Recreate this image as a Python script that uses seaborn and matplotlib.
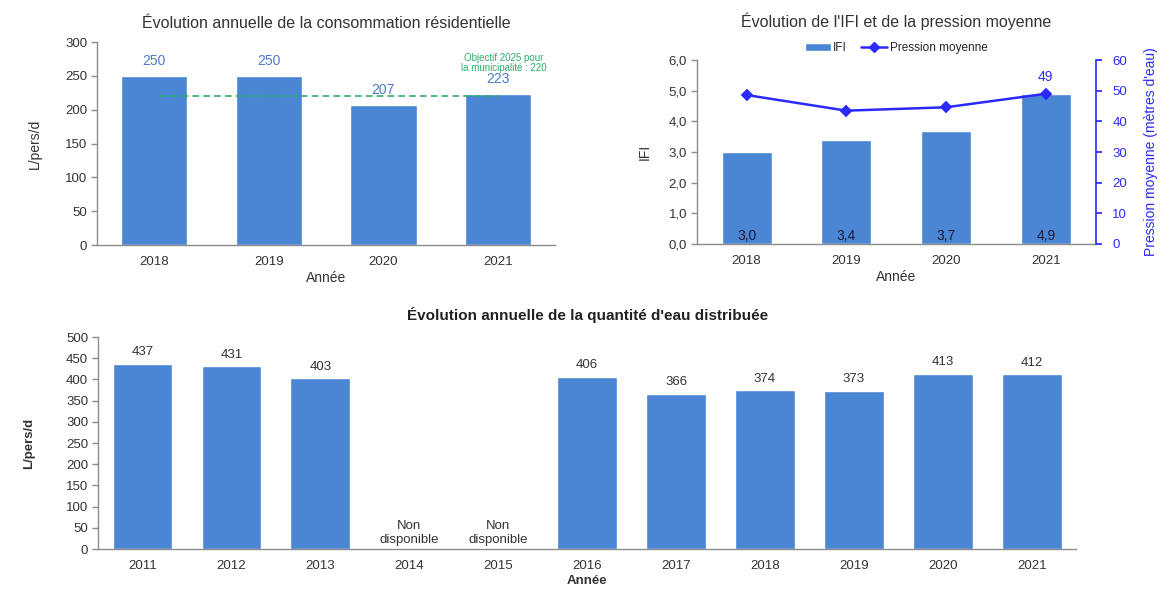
import matplotlib
matplotlib.use("Agg")
import matplotlib.pyplot as plt
import seaborn as sns
import numpy as np
from matplotlib.patches import Patch
from matplotlib.lines import Line2D
from matplotlib.ticker import FuncFormatter

# ---------------- data ----------------
res_years = ["2018", "2019", "2020", "2021"]
res_values = [250, 250, 207, 223]
objective_2025 = 220

ifi_years = ["2018", "2019", "2020", "2021"]
ifi_values = [3.0, 3.4, 3.7, 4.9]
pression_values = [48.6, 43.5, 44.6, 49.0]

dist_years = ["2011", "2012", "2013", "2014", "2015", "2016",
              "2017", "2018", "2019", "2020", "2021"]
dist_values = [437, 431, 403, np.nan, np.nan, 406, 366, 374, 373, 413, 412]
dist_missing_label = "Non\ndisponible"

# ---------------- style ----------------
sns.set_theme(style="white")
plt.rcParams["font.family"] = ["Liberation Sans", "DejaVu Sans"]

BAR = "#4b86d4"
AX = "#8c8c8c"
TXT = "#333333"
GREEN = "#2fae6c"
PBLUE = "#2a2aff"

fig = plt.figure(figsize=(11.73, 5.95), dpi=100)

def style_axes(ax, fs=9.5):
    for s in ["top", "right"]:
        ax.spines[s].set_visible(False)
    for s in ["left", "bottom"]:
        ax.spines[s].set_color(AX)
        ax.spines[s].set_linewidth(1.0)
    ax.tick_params(axis="y", which="major", length=4, width=1, color=AX,
                   labelsize=fs, labelcolor=TXT, direction="out", left=True, pad=3)
    ax.tick_params(axis="x", length=0, labelsize=fs, labelcolor=TXT, pad=8)

# ---------------- top-left ----------------
ax1 = fig.add_axes([0.0827, 0.5882, 0.3905, 0.3412])
sns.barplot(x=res_years, y=res_values, color=BAR, width=0.58, saturation=1, ax=ax1)
ax1.set_ylim(0, 300)
ax1.set_yticks(range(0, 301, 50))
ax1.set_xlim(-0.5, 3.5)
style_axes(ax1)
ax1.set_title("Évolution annuelle de la consommation résidentielle",
              fontsize=11.5, color=TXT, pad=10)
ax1.set_xlabel("Année", fontsize=10, color=TXT, labelpad=2)
ax1.set_ylabel("L/pers/d", fontsize=10, color=TXT, labelpad=17)
for i, v in enumerate(res_values):
    ax1.annotate(f"{v}", (i, v), xytext=(0, 6), textcoords="offset points",
                 ha="center", va="bottom", fontsize=10, color="#4a7cc6")
ax1.plot([0.05, 3.0], [objective_2025, objective_2025], ls=(0, (4, 2.5)),
         color=GREEN, lw=1.2)
ax1.annotate(f"Objectif 2025 pour\nla municipalité : {objective_2025}",
             (3.0, objective_2025), xytext=(4, 17), textcoords="offset points",
             ha="center", va="bottom", fontsize=7, color=GREEN, linespacing=1.0)

# ---------------- top-right ----------------
ax2 = fig.add_axes([0.594, 0.590, 0.340, 0.309])
sns.barplot(x=ifi_years, y=ifi_values, color=BAR, width=0.5, saturation=1, ax=ax2)
ax2.set_ylim(0, 6)
ax2.set_yticks(np.arange(0, 6.01, 1))
ax2.yaxis.set_major_formatter(FuncFormatter(lambda v, p: f"{v:.1f}".replace(".", ",")))
ax2.set_xlim(-0.5, 3.5)
style_axes(ax2)
ax2.set_title("Évolution de l'IFI et de la pression moyenne",
              fontsize=11.5, color=TXT, pad=24)
ax2.set_xlabel("Année", fontsize=10, color=TXT, labelpad=2)
ax2.set_ylabel("IFI", fontsize=10, color=TXT, labelpad=12)
for i, v in enumerate(ifi_values):
    ax2.text(i, 0.25, f"{v:.1f}".replace(".", ","), ha="center", va="center",
             fontsize=10, color="#1c1c3c")

ax3 = ax2.twinx()
sns.pointplot(x=ifi_years, y=pression_values, color=PBLUE, markers="D",
              markersize=5.5, linewidth=1.8, ax=ax3)
ax3.set_ylim(0, 60)
ax3.set_yticks(range(0, 61, 10))
ax3.set_xlim(-0.5, 3.5)
for s in ["top", "left", "bottom"]:
    ax3.spines[s].set_visible(False)
ax3.spines["right"].set_color(PBLUE)
ax3.spines["right"].set_linewidth(1.2)
ax3.tick_params(axis="y", length=4, color=PBLUE, labelcolor=PBLUE, labelsize=9.5,
                direction="out", right=True, pad=8)
ax3.set_ylabel("Pression moyenne (mètres d'eau)", fontsize=10, color=PBLUE, labelpad=12)
ax3.annotate(f"{pression_values[-1]:.0f}", (3, pression_values[-1]), xytext=(0, 7),
             textcoords="offset points", ha="center", va="bottom",
             fontsize=10, color=PBLUE)
handles = [Patch(facecolor=BAR, label="IFI"),
           Line2D([0], [0], color=PBLUE, marker="D", markersize=5, lw=1.8,
                  label="Pression moyenne")]
ax2.legend(handles=handles, loc="lower center", bbox_to_anchor=(0.5, 1.0),
           ncol=2, frameon=False, fontsize=8.5, handlelength=2.2,
           handletextpad=0.2, columnspacing=1.2, borderaxespad=0.1)

# ---------------- bottom ----------------
ax4 = fig.add_axes([0.0835, 0.0773, 0.834, 0.3563])
sns.barplot(x=dist_years, y=dist_values, color=BAR, width=0.67, saturation=1, ax=ax4)
ax4.set_ylim(0, 500)
ax4.set_yticks(range(0, 501, 50))
ax4.set_xlim(-0.5, len(dist_years) - 0.5)
style_axes(ax4, fs=9.5)
ax4.set_title("Évolution annuelle de la quantité d'eau distribuée",
              fontsize=11, color="#222222", fontweight="bold", pad=12)
ax4.set_xlabel("Année", fontsize=9.5, color=TXT, fontweight="bold", labelpad=2)
ax4.set_ylabel("L/pers/d", fontsize=9.5, color=TXT, fontweight="bold", labelpad=22)
for i, v in enumerate(dist_values):
    if np.isnan(v):
        ax4.text(i, 8, dist_missing_label, ha="center", va="bottom",
                 fontsize=9.5, color=TXT, linespacing=1.2)
    else:
        ax4.annotate(f"{v:.0f}", (i, v), xytext=(0, 4), textcoords="offset points",
                     ha="center", va="bottom", fontsize=9.5, color=TXT)

fig.savefig("out.png", dpi=100)
